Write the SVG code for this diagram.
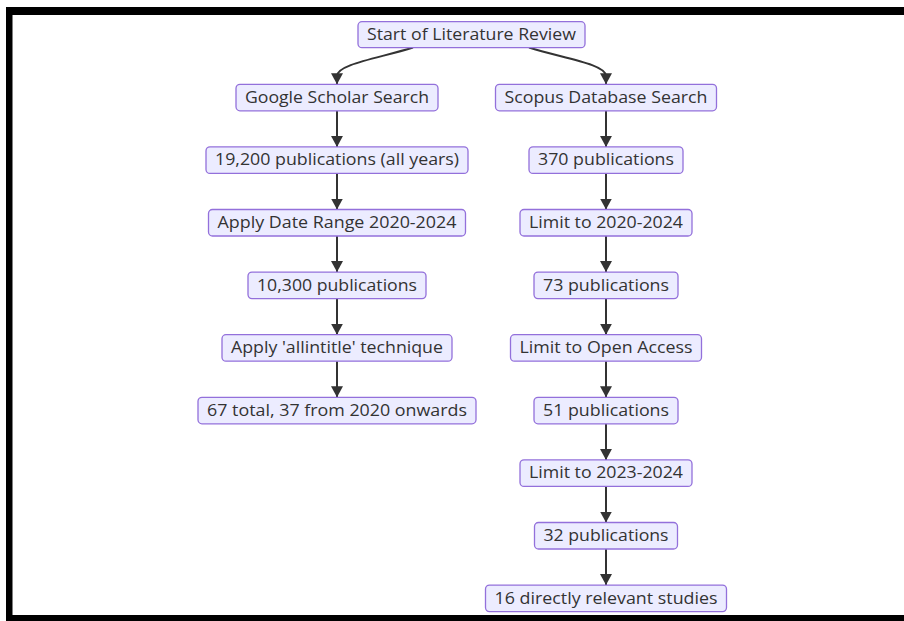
<svg xmlns="http://www.w3.org/2000/svg" width="904" height="621" viewBox="0 0 904 621">
<defs>
<marker id="arr" markerUnits="userSpaceOnUse" markerWidth="13" markerHeight="13" refX="11" refY="6" orient="auto">
<path d="M0,0 L11,6 L0,12 z" fill="#333333"/>
</marker>
<style>
.n rect{fill:#ECECFF;stroke:#9370DB;stroke-width:1.3}
.n text{font-family:"Open Sans","Noto Sans",sans-serif;font-size:15.5px;fill:#333333;text-anchor:middle}
.e path{fill:none;stroke:#333333;stroke-width:2;marker-end:url(#arr)}
</style>
</defs>
<rect x="0" y="0" width="904" height="621" fill="#ffffff"/>
<g id="frame" fill="#000000">
<rect x="6" y="7" width="898" height="8"/>
<rect x="6" y="7" width="6.5" height="614"/>
<rect x="6" y="615" width="898" height="6"/>
</g>
<g id="connectors" class="e">
<path d="M413,47.5 C380,58 337,64 337,76 L337,84.3"/>
<path d="M529,47.5 C562,58 606,64 606,76 L606,84.3"/>
<path d="M337,110.8 L337,146.9"/>
<path d="M337,173.4 L337,209.5"/>
<path d="M337,236 L337,272.1"/>
<path d="M337,298.6 L337,334.7"/>
<path d="M337,361.2 L337,397.3"/>
<path d="M606,110.8 L606,146.9"/>
<path d="M606,173.4 L606,209.5"/>
<path d="M606,236 L606,272.1"/>
<path d="M606,298.6 L606,334.7"/>
<path d="M606,361.2 L606,397.3"/>
<path d="M606,423.8 L606,459.9"/>
<path d="M606,486.4 L606,522.5"/>
<path d="M606,549 L606,585.1"/>
</g>
<g id="start" class="n"><rect x="358" y="21.7" width="227" height="26" rx="4"/><text x="471.5" y="40" textLength="209" lengthAdjust="spacingAndGlyphs">Start of Literature Review</text></g>
<g id="google" class="n"><rect x="236" y="84.3" width="202" height="26.5" rx="4"/><text x="337" y="102.8" textLength="184" lengthAdjust="spacingAndGlyphs">Google Scholar Search</text></g>
<g id="g19200" class="n"><rect x="206" y="146.9" width="262" height="26.5" rx="4"/><text x="337" y="165.4" textLength="244" lengthAdjust="spacingAndGlyphs">19,200 publications (all years)</text></g>
<g id="gdate" class="n"><rect x="208.5" y="209.5" width="257" height="26.5" rx="4"/><text x="337" y="228" textLength="239" lengthAdjust="spacingAndGlyphs">Apply Date Range 2020-2024</text></g>
<g id="g10300" class="n"><rect x="248" y="272.1" width="178" height="26.5" rx="4"/><text x="337" y="290.6" textLength="160" lengthAdjust="spacingAndGlyphs">10,300 publications</text></g>
<g id="gallintitle" class="n"><rect x="222" y="334.7" width="230" height="26.5" rx="4"/><text x="337" y="353.2" textLength="212" lengthAdjust="spacingAndGlyphs">Apply 'allintitle' technique</text></g>
<g id="g67" class="n"><rect x="198" y="397.3" width="278" height="26.5" rx="4"/><text x="337" y="415.8" textLength="260" lengthAdjust="spacingAndGlyphs">67 total, 37 from 2020 onwards</text></g>
<g id="scopus" class="n"><rect x="495.5" y="84.3" width="221" height="26.5" rx="4"/><text x="606" y="102.8" textLength="203" lengthAdjust="spacingAndGlyphs">Scopus Database Search</text></g>
<g id="s370" class="n"><rect x="529" y="146.9" width="154" height="26.5" rx="4"/><text x="606" y="165.4" textLength="136" lengthAdjust="spacingAndGlyphs">370 publications</text></g>
<g id="s2020" class="n"><rect x="520" y="209.5" width="172" height="26.5" rx="4"/><text x="606" y="228" textLength="154" lengthAdjust="spacingAndGlyphs">Limit to 2020-2024</text></g>
<g id="s73" class="n"><rect x="534" y="272.1" width="144" height="26.5" rx="4"/><text x="606" y="290.6" textLength="126" lengthAdjust="spacingAndGlyphs">73 publications</text></g>
<g id="sopen" class="n"><rect x="510.5" y="334.7" width="191" height="26.5" rx="4"/><text x="606" y="353.2" textLength="173" lengthAdjust="spacingAndGlyphs">Limit to Open Access</text></g>
<g id="s51" class="n"><rect x="534" y="397.3" width="144" height="26.5" rx="4"/><text x="606" y="415.8" textLength="126" lengthAdjust="spacingAndGlyphs">51 publications</text></g>
<g id="s2023" class="n"><rect x="520" y="459.9" width="172" height="26.5" rx="4"/><text x="606" y="478.4" textLength="154" lengthAdjust="spacingAndGlyphs">Limit to 2023-2024</text></g>
<g id="s32" class="n"><rect x="534.5" y="522.5" width="143" height="26.5" rx="4"/><text x="606" y="541" textLength="125" lengthAdjust="spacingAndGlyphs">32 publications</text></g>
<g id="s16" class="n"><rect x="485.5" y="585.1" width="241" height="26.5" rx="4"/><text x="606" y="603.6" textLength="223" lengthAdjust="spacingAndGlyphs">16 directly relevant studies</text></g>
</svg>
